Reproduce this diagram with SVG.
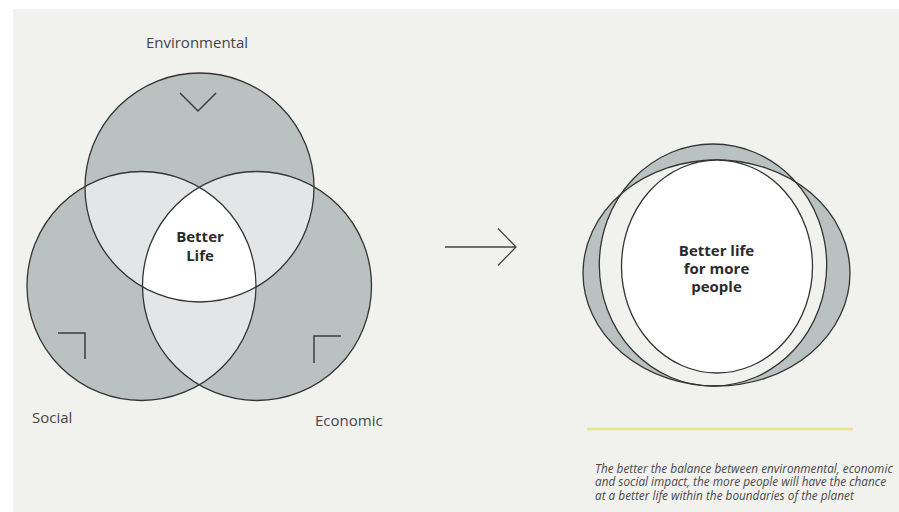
<svg xmlns="http://www.w3.org/2000/svg" width="899" height="512" viewBox="0 0 899 512">
  <defs>
    <style>
      .lbl { font-family: "Open Sans", "Liberation Sans", sans-serif; font-size: 15px; fill: #464646; }
      .bold { font-family: "Open Sans", "Liberation Sans", sans-serif; font-size: 15px; font-weight: bold; fill: #2b2b2b; text-anchor: middle; }
      .note { font-family: "Open Sans", "Liberation Sans", sans-serif; font-size: 11.8px; font-style: italic; fill: #4a4a4a; }
      .ol { fill: none; stroke: #343434; stroke-width: 1.3; }
      .dark { fill: #b9c1c1; }
      .light { fill: #e3e6e6; }
      .mk { fill: none; stroke: #3e3e3e; stroke-width: 1.5; }
    </style>
    <clipPath id="cT"><circle cx="199.5" cy="187.5" r="114.5"/></clipPath>
    <clipPath id="cL"><circle cx="141.5" cy="286" r="114.5"/></clipPath>
    <clipPath id="cR"><circle cx="257" cy="286" r="114.5"/></clipPath>
  </defs>

  <rect x="0" y="0" width="899" height="512" fill="#ffffff"/>
  <rect x="13" y="9" width="886" height="503" fill="#f1f1ee"/>

  <!-- Venn fills -->
  <g id="venn-fills">
    <circle class="dark" cx="199.5" cy="187.5" r="114.5"/>
    <circle class="dark" cx="141.5" cy="286" r="114.5"/>
    <circle class="dark" cx="257" cy="286" r="114.5"/>
    <circle class="light" cx="141.5" cy="286" r="114.5" clip-path="url(#cT)"/>
    <circle class="light" cx="257" cy="286" r="114.5" clip-path="url(#cT)"/>
    <circle class="light" cx="257" cy="286" r="114.5" clip-path="url(#cL)"/>
    <g clip-path="url(#cR)">
      <circle fill="#ffffff" cx="141.5" cy="286" r="114.5" clip-path="url(#cT)"/>
    </g>
  </g>

  <g id="environmental">
    <circle class="ol" cx="199.5" cy="187.5" r="114.5"/>
    <path class="mk" d="M180,93 L198,111 L216,93"/>
    <text class="lbl" x="197" y="47.5" text-anchor="middle">Environmental</text>
  </g>

  <g id="social">
    <circle class="ol" cx="141.5" cy="286" r="114.5"/>
    <path class="mk" d="M58,333 H85 V359"/>
    <text class="lbl" x="32" y="422.5">Social</text>
  </g>

  <g id="economic">
    <circle class="ol" cx="257" cy="286" r="114.5"/>
    <path class="mk" d="M314,363 V336 H341"/>
    <text class="lbl" x="315" y="425.5">Economic</text>
  </g>

  <g id="better-life">
    <text class="bold" x="200" y="242">Better</text>
    <text class="bold" x="200" y="261">Life</text>
  </g>

  <g id="connectors">
    <path fill="none" stroke="#444444" stroke-width="1.3" d="M445,247 H516 M498,228.5 L516,247 L498,265.5"/>
  </g>

  <g id="better-life-more-people">
    <path fill="#b9c1c1" fill-rule="evenodd" stroke="none"
      d="M583,273 A133.5,113 0 1 0 850,273 A133.5,113 0 1 0 583,273 Z M599.3,265 A113.7,121 0 1 0 826.7,265 A113.7,121 0 1 0 599.3,265 Z"/>
    <ellipse class="ol" cx="716.5" cy="273" rx="133.5" ry="113"/>
    <ellipse class="ol" cx="713" cy="265" rx="113.7" ry="121"/>
    <ellipse fill="#ffffff" stroke="#343434" stroke-width="1.3" cx="717" cy="266.5" rx="95.5" ry="106.5"/>
    <text class="bold" x="716.5" y="256">Better life</text>
    <text class="bold" x="716.5" y="274">for more</text>
    <text class="bold" x="716.5" y="292">people</text>
  </g>

  <g id="note">
    <line x1="587" y1="429" x2="853" y2="429" stroke="#ece68a" stroke-width="2.5"/>
    <text class="note" x="595" y="472.5">The better the balance between environmental, economic</text>
    <text class="note" x="595" y="486">and social impact, the more people will have the chance</text>
    <text class="note" x="595" y="499.5">at a better life within the boundaries of the planet</text>
  </g>
</svg>
